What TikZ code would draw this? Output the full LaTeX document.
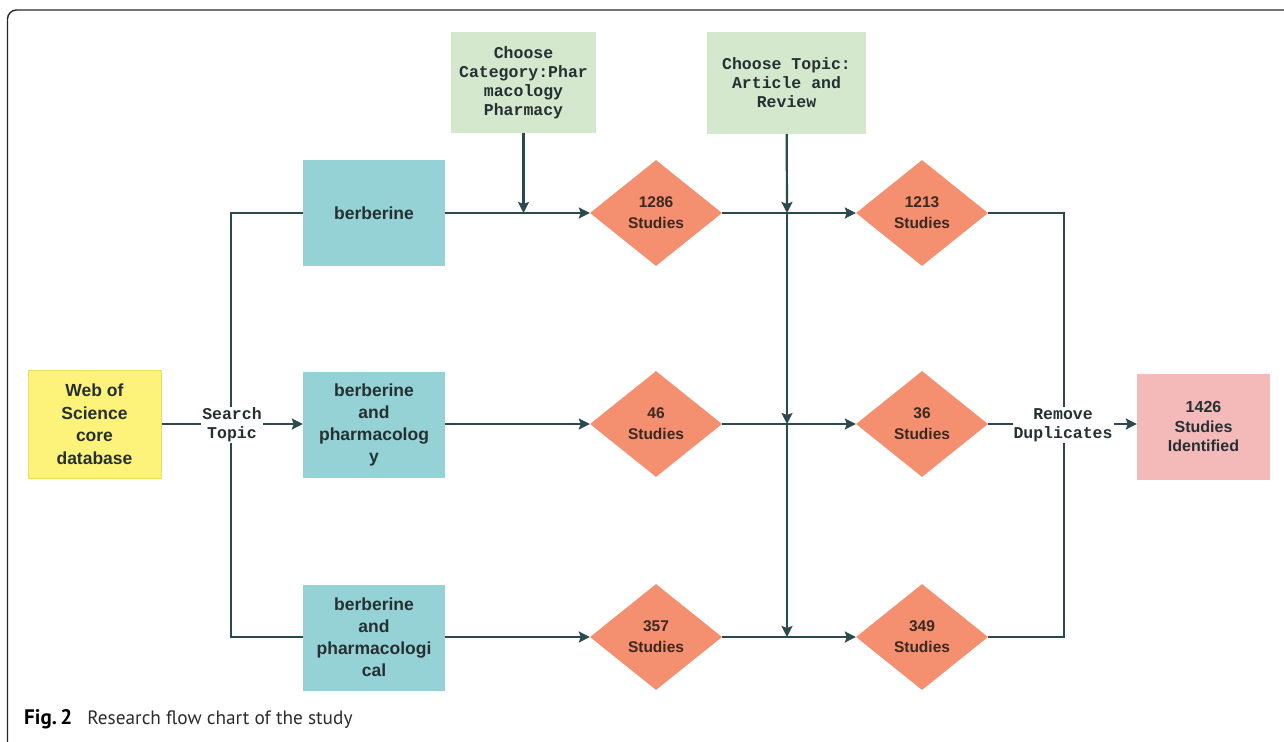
\documentclass[tikz,border=0pt]{standalone}
\usepackage{fontspec}
\setmainfont{Liberation Sans}
\newfontfamily\monof{Liberation Mono}
\newfontfamily\capf{PT Sans}
\usetikzlibrary{arrows.meta,shapes.geometric}
\definecolor{lineC}{RGB}{44,74,78}
\definecolor{frameC}{RGB}{40,40,40}
\definecolor{yelC}{RGB}{254,243,122}
\definecolor{yelD}{RGB}{238,222,90}
\definecolor{tealC}{RGB}{148,210,214}
\definecolor{diaC}{RGB}{244,144,112}
\definecolor{greenC}{RGB}{212,232,206}
\definecolor{pinkC}{RGB}{244,186,186}
\definecolor{txtC}{RGB}{38,48,50}
\definecolor{diaT}{RGB}{60,40,34}
\definecolor{capC}{RGB}{45,45,45}
\begin{document}
\begin{tikzpicture}[x=1pt,y=-1pt,
  webbox/.style={rectangle, fill=yelC, draw=yelD, line width=1pt, minimum width=133pt, minimum height=108pt, inner sep=0pt, align=center, text=txtC, font=\bfseries\fontsize{17.5}{22.5}\selectfont},
  tealbox/.style={rectangle, fill=tealC, minimum width=142pt, minimum height=106pt, inner sep=0pt, align=center, text=txtC, font=\bfseries\fontsize{17.5}{22}\selectfont},
  diabox/.style={diamond, fill=diaC, minimum width=132pt, minimum height=106pt, inner sep=0pt, align=center, text=diaT, font=\bfseries\fontsize{15.5}{21}\selectfont},
  greenbox/.style={rectangle, fill=greenC, minimum height=101pt, inner sep=0pt, align=center, text=txtC, font=\monof\bfseries\fontsize{16.5}{19}\selectfont},
  pinkbox/.style={rectangle, fill=pinkC, minimum width=133pt, minimum height=106pt, inner sep=0pt, align=center, text=txtC, font=\bfseries\fontsize{16}{19.5}\selectfont},
  lbl/.style={fill=white, inner sep=1pt, align=center, text=txtC, font=\monof\bfseries\fontsize{16.5}{19}\selectfont},
  conn/.style={draw=lineC, line width=2.2pt, line join=miter},
  arr/.style={conn, -{Stealth[length=11pt,width=11pt,inset=2pt]}}
]
\useasboundingbox (0,0) rectangle (1284,741);
\draw[draw=frameC, line width=1.4pt, rounded corners=9pt] (7.5,745) -- (7.5,10) -- (1290,10);

% nodes
\node[webbox] (web) at (94.5,424) {Web of\\Science\\core\\database};
\node[tealbox] (t1) at (374,213) {berberine};
\node[tealbox] (t2) at (374,424.5) {berberine\\and\\pharmacolog\\y};
\node[tealbox] (t3) at (374,637.5) {berberine\\and\\pharmacologi\\cal};
\node[diabox] (d1a) at (656,213) {1286\\Studies};
\node[diabox] (d2a) at (656,424) {46\\Studies};
\node[diabox] (d3a) at (656,637) {357\\Studies};
\node[diabox] (d1b) at (922,213) {1213\\Studies};
\node[diabox] (d2b) at (922,424) {36\\Studies};
\node[diabox] (d3b) at (922,637) {349\\Studies};
\node[greenbox, minimum width=145pt] (g1) at (523.5,82.5) {Choose\\Category:Phar\\macology\\Pharmacy};
\node[greenbox, minimum width=159pt, minimum height=102pt] (g2) at (786.5,83) {Choose Topic:\\Article and\\Review};
\node[pinkbox] (res) at (1203.5,426.5) {1426\\Studies\\Identified};

% junction coordinates
\coordinate (s) at (231,424);
\coordinate (s1) at (231,213);
\coordinate (s3) at (231,637);
\coordinate (c1) at (523.5,213);
\coordinate (m1) at (787,213);
\coordinate (m2) at (787,424);
\coordinate (m3) at (787,637);
\coordinate (r1) at (1064,213);
\coordinate (r2) at (1064,424);
\coordinate (r3) at (1064,637);

% connectors
\draw[conn] (t1.west) -- (s1) -- (s3) -- (t3.west |- s3);
\draw[arr] (web) -- (web -| t2.west);
\draw[arr] (t1) -- (d1a);
\draw[arr] (t2.east |- d2a) -- (d2a);
\draw[arr] (t3.east |- d3a) -- (d3a);
\draw[arr] (g1) -- (c1);
\draw[arr] (d1a) -- (d1b);
\draw[arr] (d2a) -- (d2b);
\draw[arr] (d3a) -- (d3b);
\draw[arr] (g2) -- (m1);
\draw[arr] (m1) -- (m2);
\draw[arr] (m2) -- (m3);
\draw[conn] (d1b.east) -- (r1) -- (r3) -- (d3b.east);
\draw[arr] (d2b) -- (d2b -| res.west);

% labels on lines
\node[lbl] (lst) at (232,425) {Search\\Topic};
\node[lbl] (lrd) at (1063,425) {Remove\\Duplicates};

% caption
\node[anchor=base west, inner sep=0pt, text=capC, font=\capf\fontsize{19.3}{23}\selectfont] (cap) at (24,724) {{\color{black}\fontsize{21}{23}\selectfont\textbf{Fig.\,2}}\hspace{15pt}Research flow chart of the study};
\end{tikzpicture}
\end{document}
